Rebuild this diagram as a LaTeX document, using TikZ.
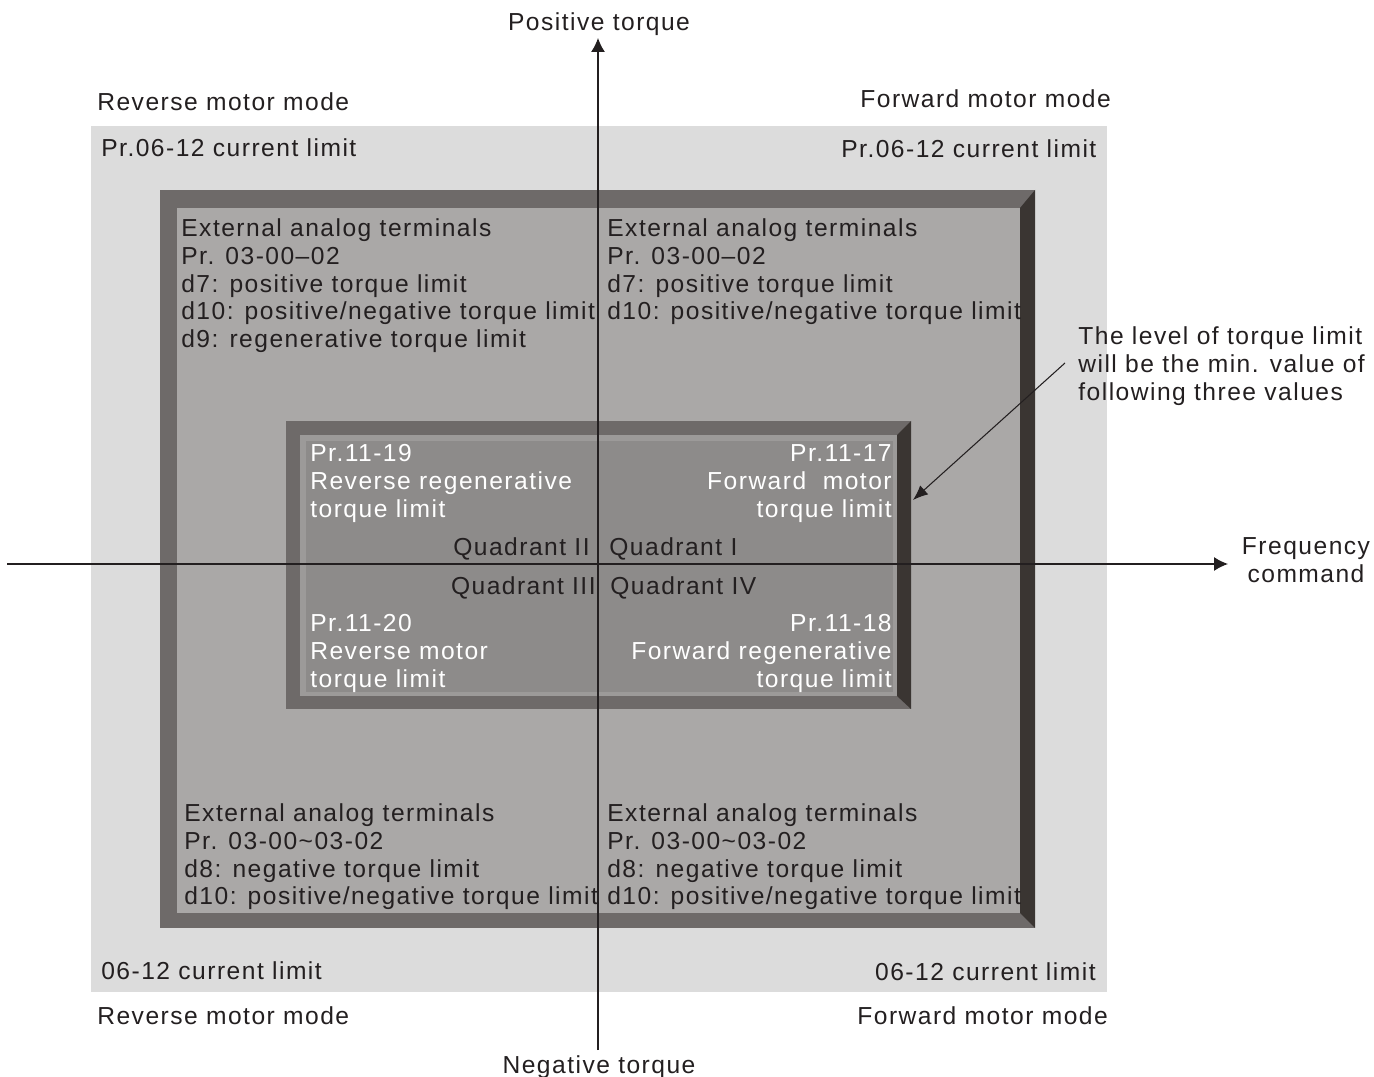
\documentclass[tikz,border=0pt]{standalone}
\usepackage{fontspec}
\setmainfont{Liberation Sans}
\newfontfamily\lblfont[LetterSpace=6]{Liberation Sans}
\usetikzlibrary{arrows.meta}
\definecolor{inkdark}{HTML}{231F20}
\definecolor{paneback}{HTML}{DCDCDC}
\definecolor{outerface}{HTML}{AAA8A7}
\definecolor{bevelmid}{HTML}{6E6A69}
\definecolor{beveldark}{HTML}{3A3532}
\definecolor{innerrim}{HTML}{9C9A99}
\definecolor{innerface}{HTML}{8D8B8A}
\tikzset{
  lbl/.style={inner sep=0pt, font=\lblfont\fontsize{14}{15.9}\selectfont, text=inkdark, align=left, anchor=north west},
  lblr/.style={lbl, align=right, anchor=north east},
  lblc/.style={lbl, align=center, anchor=north},
  wlbl/.style={lbl, text=white},
  wlblr/.style={lblr, text=white},
  axis/.style={line width=0.7pt, draw=inkdark, -{Latex[length=2.8mm,width=2.8mm]}},
}
\begin{document}
\begin{tikzpicture}[x=0.02cm, y=-0.02cm]
  \useasboundingbox (0,0) rectangle (1374,1077);
  % background panel
  \fill[paneback] (91,126) rectangle (1107,992);
  % outer frame
  \begin{scope}
    \fill[bevelmid] (160,190) rectangle (1035,928);
    \fill[beveldark] (1020,208) -- (1035,190) -- (1035,928) -- (1020,913) -- cycle;
    \fill[outerface] (177,208) rectangle (1020,913);
  \end{scope}
  % inner frame
  \begin{scope}
    \fill[bevelmid] (286,421) rectangle (911,709);
    \fill[beveldark] (897,435) -- (911,421) -- (911,709) -- (897,696) -- cycle;
    \fill[innerrim] (300,435) rectangle (897,696);
    \fill[innerface] (306,441) rectangle (893,692);
  \end{scope}
  % axes
  \coordinate (xstart) at (7,564);
  \coordinate (xend) at (1228,564);
  \coordinate (ystart) at (598,1050);
  \coordinate (yend) at (598,38);
  \draw[axis] (xstart) -- (xend);
  \draw[axis] (ystart) -- (yend);
  \node[lblc] (postorque) at (599,12) {Positive torque};
  \node[lblc] (negtorque) at (599,1055) {Negative torque};
  \node[lblc] (freqcmd) at (1306,537) {Frequency\\command};
  % motor modes and current limits
  \node[lbl] (revtop) at (97,92) {Reverse motor mode};
  \node[lbl] (fwdtop) at (860,89) {Forward motor mode};
  \node[lbl] (curtl) at (101,138) {Pr.06-12 current limit};
  \node[lbl] (curtr) at (841,139) {Pr.06-12 current limit};
  \node[lbl] (curbl) at (101,961) {06-12 current limit};
  \node[lblr] (curbr) at (1096,962) {06-12 current limit};
  \node[lbl] (revbot) at (97,1006) {Reverse motor mode};
  \node[lbl] (fwdbot) at (857,1006) {Forward motor mode};
  % external analog terminals
  \node[lbl] (exttl) at (181,218) {External analog terminals\\Pr. 03-00–02\\d7: positive torque limit\\d10: positive/negative torque limit\\d9: regenerative torque limit};
  \node[lbl] (exttr) at (607,218) {External analog terminals\\Pr. 03-00–02\\d7: positive torque limit\\d10: positive/negative torque limit};
  \node[lbl] (extbl) at (184,803) {External analog terminals\\Pr. 03-00\textasciitilde03-02\\d8: negative torque limit\\d10: positive/negative torque limit};
  \node[lbl] (extbr) at (607,803) {External analog terminals\\Pr. 03-00\textasciitilde03-02\\d8: negative torque limit\\d10: positive/negative torque limit};
  % torque limit parameters
  \node[wlbl] (prtl) at (310,444) {Pr.11-19\\Reverse regenerative\\torque limit};
  \node[wlblr] (prtr) at (892,444) {Pr.11-17\\Forward~~motor\\torque limit};
  \node[wlbl] (prbl) at (310,614) {Pr.11-20\\Reverse motor\\torque limit};
  \node[wlblr] (prbr) at (892,614) {Pr.11-18\\Forward regenerative\\torque limit};
  % quadrants
  \node[lblr] (quadII) at (590,537) {Quadrant II};
  \node[lbl] (quadI) at (609,537) {Quadrant I};
  \node[lblr] (quadIII) at (596,576) {Quadrant III};
  \node[lbl] (quadIV) at (610,576) {Quadrant IV};
  % note
  \node[lbl] (note) at (1078,326) {The level of torque limit\\will be the min. value of\\following three values};
  \coordinate (notetail) at (1065,363);
  \coordinate (notetip) at (913,500);
  \draw[line width=0.6pt, draw=inkdark, -{Latex[length=3mm,width=2.4mm]}] (notetail) -- (notetip);
\end{tikzpicture}
\end{document}
